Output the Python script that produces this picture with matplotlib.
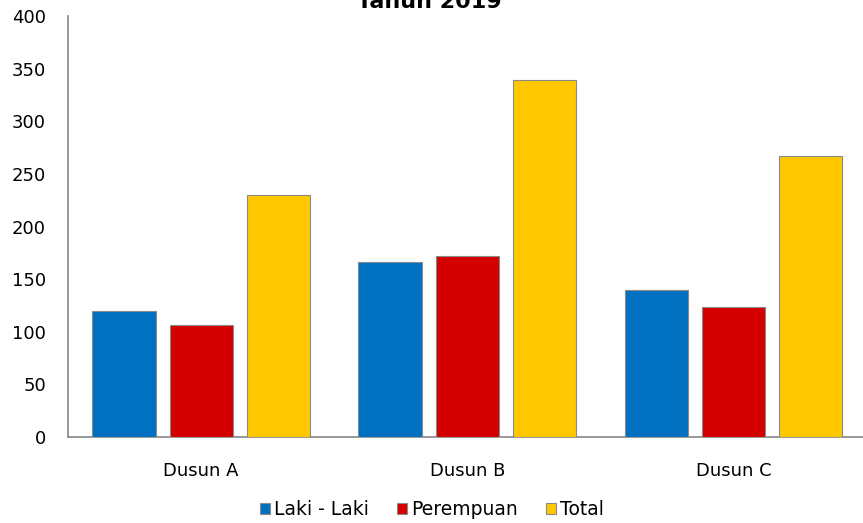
import matplotlib
matplotlib.use("Agg")
import matplotlib.pyplot as plt
import numpy as np

# data
categories = ["Dusun A", "Dusun B", "Dusun C"]
laki = [120, 166, 140]
perempuan = [106, 172, 124]
total = [230, 339, 267]
series_names = ["Laki - Laki", "Perempuan", "Total"]
series_colors = ["#0070C0", "#D40000", "#FFC800"]

plt.rcParams['font.family'] = ['DejaVu Sans']

fig = plt.figure(figsize=(8.63, 5.23), dpi=100)
ax = fig.add_axes([0.079, 0.1644, 0.925, 0.805])

x = np.arange(len(categories))
width = 0.238
pitch = 0.29
for i, (vals, name, col) in enumerate(zip([laki, perempuan, total], series_names, series_colors)):
    ax.bar(x + (i - 1) * pitch, vals, width, color=col, label=name,
           edgecolor="#8a8a8a", linewidth=0.8, zorder=3)

ax.set_xlim(-0.5, 2.5)
ax.set_ylim(0, 400)
ax.set_yticks(range(0, 401, 50))
ax.set_xticks(x)
ax.set_xticklabels(categories)
ax.tick_params(axis="both", length=0, labelsize=13, colors="black")
ax.tick_params(axis="y", pad=16)
ax.tick_params(axis="x", pad=18)

for s in ["top", "right"]:
    ax.spines[s].set_visible(False)
for s in ["left", "bottom"]:
    ax.spines[s].set_color("#868686")
    ax.spines[s].set_linewidth(1.2)

fig.text(0.498, 1 - 8 / 523, "Tahun 2019", ha="center", va="baseline",
         fontsize=16, fontweight="bold", color="black")

fig.legend(loc="center", bbox_to_anchor=(0.5, 0.025), ncol=3, frameon=False,
           fontsize=13.5, handlelength=0.55, handleheight=0.55, handletextpad=0.2,
           columnspacing=1.5)

fig.savefig("out.png", dpi=100)
